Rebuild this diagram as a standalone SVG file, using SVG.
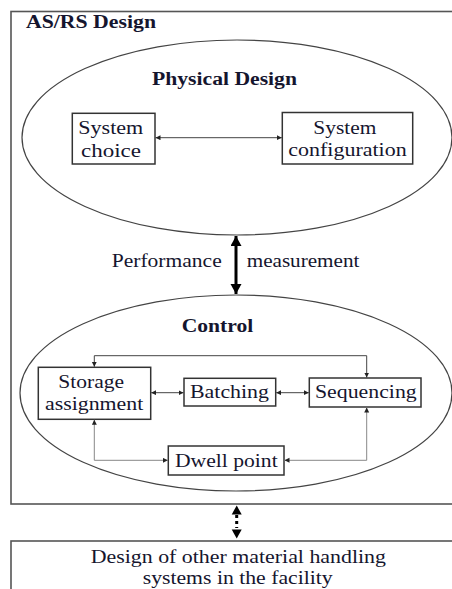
<svg xmlns="http://www.w3.org/2000/svg" width="452" height="589" viewBox="0 0 452 589">
  <style>
    .bg { fill: #ffffff; }
    .frame { fill: none; stroke: #555555; stroke-width: 1.6; }
    .oval { fill: none; stroke: #444444; stroke-width: 1.2; }
    .box { fill: #ffffff; stroke: #333333; stroke-width: 1.5; }
    .txt { font-family: "Liberation Serif", "Times New Roman", serif; font-size: 18px; fill: #15152e; }
    .bold { font-weight: bold; }
    .link { fill: none; stroke: #444444; stroke-width: 1; }
    .link-lt { fill: none; stroke: #888888; stroke-width: 1; }
    .heavy { fill: none; stroke: #000000; stroke-width: 3; }
    .dotted { fill: none; stroke: #000000; stroke-width: 3; stroke-dasharray: 3 3; }
  </style>
  <defs>
    <marker id="sm" markerUnits="userSpaceOnUse" markerWidth="6" markerHeight="6" refX="5" refY="2.5" orient="auto-start-reverse">
      <path d="M0,0 L5,2.5 L0,5 z" fill="#222222"/>
    </marker>
    <marker id="big" markerUnits="userSpaceOnUse" markerWidth="12" markerHeight="12" refX="10" refY="5.5" orient="auto-start-reverse">
      <path d="M0,0 L10,5.5 L0,11 z" fill="#000000"/>
    </marker>
  </defs>

  <rect class="bg" x="0" y="0" width="452" height="589"/>

  <!-- AS/RS design frame -->
  <g id="asrs-design">
    <rect class="frame" x="11" y="11.5" width="460" height="492.5"/>
    <text class="txt bold" x="26" y="28" textLength="130" lengthAdjust="spacingAndGlyphs">AS/RS Design</text>
  </g>

  <!-- Physical design -->
  <g id="physical-design">
    <ellipse class="oval" cx="237" cy="137.5" rx="215" ry="97.5"/>
    <text class="txt bold" x="152" y="85" textLength="145" lengthAdjust="spacingAndGlyphs">Physical Design</text>
  </g>

  <g id="system-choice">
    <rect class="box" x="72.3" y="113.3" width="82.7" height="50.7"/>
    <text class="txt" x="78.3" y="134.3" textLength="65" lengthAdjust="spacingAndGlyphs">System</text>
    <text class="txt" x="81" y="156.7" textLength="60" lengthAdjust="spacingAndGlyphs">choice</text>
  </g>

  <g id="system-configuration">
    <rect class="box" x="282.3" y="112.5" width="130.4" height="51.5"/>
    <text class="txt" x="313.3" y="134" textLength="63" lengthAdjust="spacingAndGlyphs">System</text>
    <text class="txt" x="288.3" y="156" textLength="118.4" lengthAdjust="spacingAndGlyphs">configuration</text>
  </g>

  <!-- Control -->
  <g id="control">
    <ellipse class="oval" cx="236" cy="393" rx="216" ry="98"/>
    <text class="txt bold" x="181.7" y="331.7" textLength="71.6" lengthAdjust="spacingAndGlyphs">Control</text>
  </g>

  <g id="storage-assignment">
    <rect class="box" x="38.3" y="367.3" width="112.4" height="52"/>
    <text class="txt" x="58.3" y="388.3" textLength="65.7" lengthAdjust="spacingAndGlyphs">Storage</text>
    <text class="txt" x="45" y="410" textLength="98.3" lengthAdjust="spacingAndGlyphs">assignment</text>
  </g>

  <g id="batching">
    <rect class="box" x="184" y="378.3" width="91.7" height="27.7"/>
    <text class="txt" x="190" y="398.3" textLength="79" lengthAdjust="spacingAndGlyphs">Batching</text>
  </g>

  <g id="sequencing">
    <rect class="box" x="309.3" y="378" width="111.7" height="29"/>
    <text class="txt" x="315" y="398.3" textLength="101.7" lengthAdjust="spacingAndGlyphs">Sequencing</text>
  </g>

  <g id="dwell-point">
    <rect class="box" x="168.3" y="446" width="115.7" height="29"/>
    <text class="txt" x="175" y="467.3" textLength="102.7" lengthAdjust="spacingAndGlyphs">Dwell point</text>
  </g>

  <!-- Other material handling systems -->
  <g id="other-systems">
    <rect class="frame" x="11" y="541" width="460" height="60"/>
    <text class="txt" x="90.7" y="563.3" textLength="295.3" lengthAdjust="spacingAndGlyphs">Design of other material handling</text>
    <text class="txt" x="142.7" y="584.3" textLength="190" lengthAdjust="spacingAndGlyphs">systems in the facility</text>
  </g>

  <!-- Connectors -->
  <g id="connectors">
    <line class="link" x1="155.5" y1="137.7" x2="281.8" y2="137.7" marker-start="url(#sm)" marker-end="url(#sm)"/>

    <line class="heavy" x1="236" y1="236" x2="236" y2="294" marker-start="url(#big)" marker-end="url(#big)"/>
    <text class="txt" x="111.7" y="266.7" textLength="110" lengthAdjust="spacingAndGlyphs">Performance</text>
    <text class="txt" x="246.7" y="266.7" textLength="112.7" lengthAdjust="spacingAndGlyphs">measurement</text>

    <line class="link" x1="151.2" y1="392.7" x2="183.5" y2="392.7" marker-start="url(#sm)" marker-end="url(#sm)"/>
    <line class="link" x1="276.2" y1="392.7" x2="308.8" y2="392.7" marker-start="url(#sm)" marker-end="url(#sm)"/>
    <polyline class="link" points="94.3,366.8 94.3,355.7 366.7,355.7 366.7,377.5" marker-start="url(#sm)" marker-end="url(#sm)"/>
    <polyline class="link-lt" points="94.3,419.8 94.3,460.3 167.8,460.3" marker-start="url(#sm)" marker-end="url(#sm)"/>
    <polyline class="link-lt" points="366.7,407.5 366.7,460.3 284.5,460.3" marker-start="url(#sm)" marker-end="url(#sm)"/>

    <line class="dotted" x1="236.7" y1="515" x2="236.7" y2="528"/>
    <path d="M236.7,505.5 L231.7,514.5 L241.7,514.5 z" fill="#000000"/>
    <path d="M236.7,538.5 L231.7,529.5 L241.7,529.5 z" fill="#000000"/>
  </g>
</svg>
